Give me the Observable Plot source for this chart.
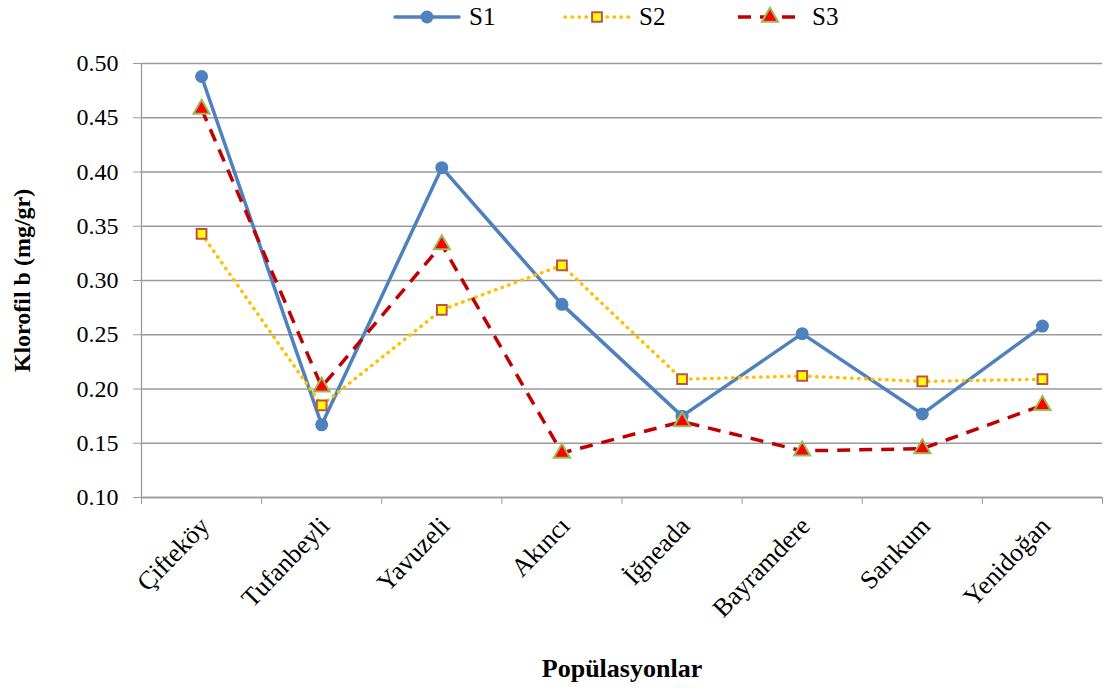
<!DOCTYPE html>
<html><head><meta charset="utf-8">
<script src="https://cdn.jsdelivr.net/npm/d3@7"></script>
<script src="https://cdn.jsdelivr.net/npm/@observablehq/plot@0.6"></script>
<style>
body{margin:0;background:#fff;font-family:"Liberation Serif","Times New Roman",serif;}
#legend{position:relative;height:34px;width:1104px;}
.item{position:absolute;top:0;height:34px;display:flex;align-items:center;font-size:25px;color:#000;}
.item svg{margin-right:8px;}
</style></head><body>
<div id="legend"></div>
<div id="chart"></div>
<script>
const categories = ["Çifteköy","Tufanbeyli","Yavuzeli","Akıncı","İğneada","Bayramdere","Sarıkum","Yenidoğan"];
const seriesNames = ["S1","S2","S3"];
const s1 = [0.488,0.167,0.404,0.278,0.175,0.251,0.177,0.258];
const s2 = [0.343,0.185,0.273,0.314,0.209,0.212,0.207,0.209];
const s3 = [0.458,0.202,0.333,0.141,0.170,0.143,0.145,0.185];
const yTicks = [0.10,0.15,0.20,0.25,0.30,0.35,0.40,0.45,0.50];
const yTitle = "Klorofil b (mg/gr)";
const xTitle = "Popülasyonlar";

const styles = {
  S1: {stroke:"#4f81bd", strokeWidth:3.5, dash:null, cap:"round", symbol:"circle", r:6.5, fill:"#4f81bd", mstroke:"#4f81bd", msw:0},
  S2: {stroke:"#ffc000", strokeWidth:3.5, dash:"0.5 6.5", cap:"round", symbol:"square", r:5.5, fill:"#ffff00", mstroke:"#c0504d", msw:2},
  S3: {stroke:"#c00000", strokeWidth:3.5, dash:"13 9", cap:"butt", symbol:"triangle", r:6, fill:"#ff0000", mstroke:"#9bbb59", msw:2}
};
const values = {S1:s1, S2:s2, S3:s3};
const rows = s => values[s].map((v,i)=>({i, cat:categories[i], value:v, series:s}));

// legend
const legendLefts = [393,563,736];
const legend = d3.select("#legend");
seriesNames.forEach((s,k)=>{
  const st = styles[s];
  const item = legend.append("div").attr("class","item").style("left", legendLefts[k]+"px");
  const sv = item.append("svg").attr("width",68).attr("height",24);
  sv.append("line").attr("x1",2).attr("x2",66).attr("y1",12).attr("y2",12)
    .attr("stroke",st.stroke).attr("stroke-width",st.strokeWidth)
    .attr("stroke-dasharray",st.dash).attr("stroke-linecap",st.cap);
  const sym = d3.symbol().type(st.symbol==="circle"?d3.symbolCircle:st.symbol==="square"?d3.symbolSquare:d3.symbolTriangle).size(Math.PI*st.r*st.r);
  sv.append("path").attr("d",sym()).attr("transform","translate(34,12)")
    .attr("fill",st.fill).attr("stroke",st.mstroke).attr("stroke-width",st.msw);
  item.append("span").text(s);
});

const seriesMarks = seriesNames.flatMap(s=>{
  const st = styles[s];
  return [
    Plot.line(rows(s), {x:"i", y:"value", stroke:st.stroke, strokeWidth:st.strokeWidth, strokeDasharray:st.dash, strokeLinecap:st.cap}),
    Plot.dot(rows(s), {x:"i", y:"value", symbol:()=>st.symbol, r:st.r, fill:st.fill, stroke:st.mstroke, strokeWidth:st.msw})
  ];
});

const boundaries = d3.range(-0.5, categories.length, 1);

const chart = Plot.plot({
  width:1104, height:660,
  marginTop:29, marginBottom:197, marginLeft:141, marginRight:2,
  style:{fontFamily:"'Liberation Serif','Times New Roman',serif", fontSize:"23px", color:"#000", background:"#fff"},
  x:{type:"linear", domain:[-0.5, categories.length-0.5], axis:null},
  y:{domain:[0.10,0.50], axis:null},
  symbol:{type:"identity"},
  marks:[
    Plot.gridY(yTicks, {stroke:"#9a9a9a", strokeOpacity:1, strokeWidth:1.3}),
    Plot.ruleX([-0.5], {stroke:"#9a9a9a", strokeWidth:1.3}),
    Plot.ruleY([0.10], {stroke:"#9a9a9a", strokeWidth:1.3}),
    Plot.axisY(yTicks, {tickFormat:d3.format(".2f"), tickSize:8, tickPadding:15, stroke:"#9a9a9a", fill:"#000", label:null, fontSize:24}),
    Plot.axisX(boundaries, {tickSize:7, tickFormat:()=>"", stroke:"#9a9a9a", label:null}),
    Plot.text(categories, {x:(d,i)=>i, text:d=>d, frameAnchor:"bottom", rotate:-46, textAnchor:"end", lineAnchor:"top", dx:-4, dy:17, fontSize:26, fill:"#000"}),
    Plot.text([yTitle], {frameAnchor:"left", textAnchor:"middle", rotate:-90, dx:-119, fontWeight:"bold", fontSize:24, fill:"#000"}),
    Plot.text([xTitle], {frameAnchor:"bottom", textAnchor:"middle", dy:179, fontWeight:"bold", fontSize:26, fill:"#000"}),
    ...seriesMarks
  ]
});
document.getElementById("chart").appendChild(chart);
</script>
</body></html>
